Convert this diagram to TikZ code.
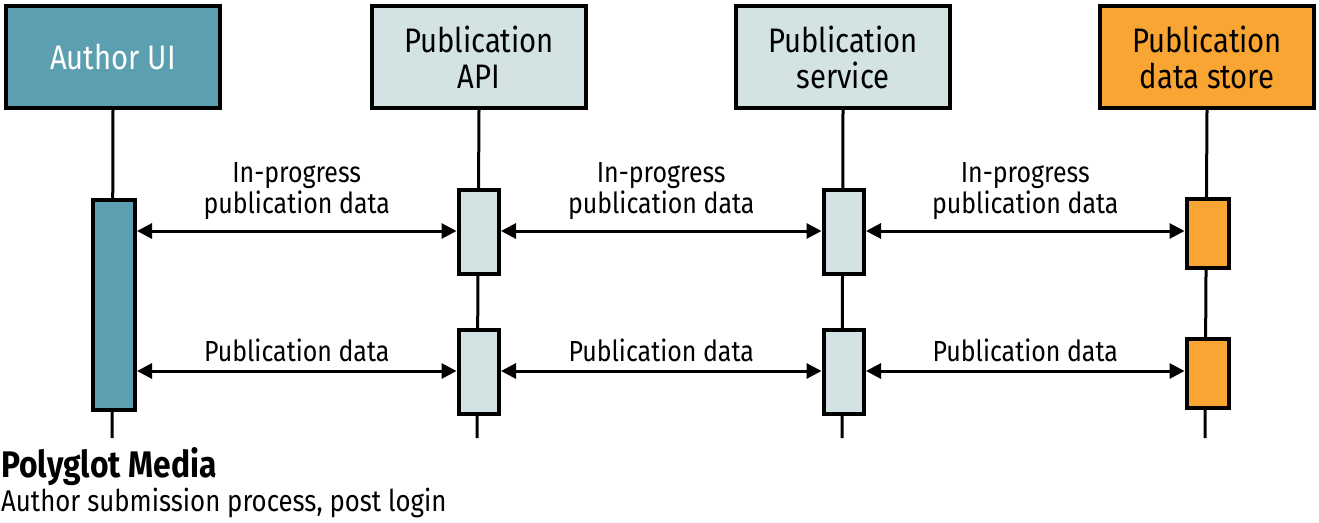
\documentclass[tikz,border=0pt]{standalone}
\usepackage{fontspec}
\setmainfont{Fira Sans}[FakeStretch=0.86]
\usetikzlibrary{arrows.meta}
\definecolor{teal}{HTML}{5B9FB0}
\definecolor{pale}{HTML}{D3E3E3}
\definecolor{orng}{HTML}{F9A533}
\begin{document}
\begin{tikzpicture}[x=1pt,y=-1pt,
  actor/.style={draw=black,line width=4pt,minimum width=214pt,minimum height=102pt,inner sep=0pt,align=center,font=\fontsize{34}{36}\selectfont,anchor=north west},
  act/.style={draw=black,line width=3.5pt,inner sep=0pt,anchor=north west},
  life/.style={line width=3pt},
  msg/.style={line width=3pt,{Triangle[length=15pt,width=15pt]}-{Triangle[length=15pt,width=15pt]},shorten <=0.5pt,shorten >=0.5pt},
  lbl/.style={font=\fontsize{29}{31}\selectfont,align=center}]
\useasboundingbox (0,0) rectangle (1319,522);
% actors
\node[actor,fill=teal,text=white] (a) at (4,4) {Author UI};
\node[actor,fill=pale] (b) at (370,4) {Publication\\API};
\node[actor,fill=pale] (c) at (734,4) {Publication\\service};
\node[actor,fill=orng] (d) at (1098,4) {Publication\\data store};
% lifeline ends
\coordinate (ae) at (112,438);
\coordinate (be) at (477,438);
\coordinate (ce) at (842,438);
\coordinate (de) at (1205,438);
\draw[life] (a.south) -- (ae);
\draw[life] (b.south) -- (be);
\draw[life] (c.south) -- (ce);
\draw[life] (d.south) -- (de);
% activations
\node[act,fill=teal,minimum width=42pt,minimum height=210pt] (a1) at (91,198) {};
\node[act,fill=pale,minimum width=40pt,minimum height=84pt] (b1) at (457,188) {};
\node[act,fill=pale,minimum width=40pt,minimum height=84pt] (b2) at (457,328) {};
\node[act,fill=pale,minimum width=40pt,minimum height=84pt] (c1) at (822,188) {};
\node[act,fill=pale,minimum width=40pt,minimum height=84pt] (c2) at (822,328) {};
\node[act,fill=orng,minimum width=42pt,minimum height=69pt] (d1) at (1185,197) {};
\node[act,fill=orng,minimum width=42pt,minimum height=69pt] (d2) at (1185,337) {};
% messages
\draw[msg] (a1.east |- 0,231) -- node[lbl,above=6pt] (m1) {In-progress\\publication data} (b1.west |- 0,231);
\draw[msg] (b1.east |- 0,231) -- node[lbl,above=6pt] (m2) {In-progress\\publication data} (c1.west |- 0,231);
\draw[msg] (c1.east |- 0,231) -- node[lbl,above=6pt] (m3) {In-progress\\publication data} (d1.west |- 0,231);
\draw[msg] (a1.east |- 0,371) -- node[lbl,above=4pt] (m4) {Publication data} (b2.west |- 0,371);
\draw[msg] (b2.east |- 0,371) -- node[lbl,above=4pt] (m5) {Publication data} (c2.west |- 0,371);
\draw[msg] (c2.east |- 0,371) -- node[lbl,above=4pt] (m6) {Publication data} (d2.west |- 0,371);
% caption
\node[anchor=base west,inner sep=0pt,font=\fontsize{37}{40}\selectfont\bfseries] (t1) at (1,477) {Polyglot Media};
\node[anchor=base west,inner sep=0pt,font=\fontsize{30}{32}\selectfont] (t2) at (1,511) {Author submission process, post login};
\end{tikzpicture}
\end{document}
